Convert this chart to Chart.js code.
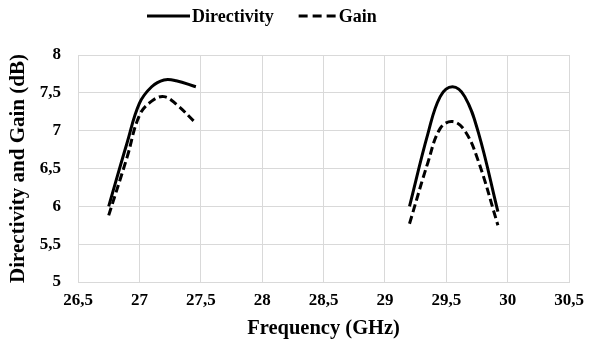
<!DOCTYPE html>
<html>
<head>
<meta charset="utf-8">
<script src="https://cdn.jsdelivr.net/npm/chart.js@4/dist/chart.umd.min.js"></script>
<style>
html,body{margin:0;padding:0;background:#fff;}
#wrap{width:592px;height:348px;position:relative;}
</style>
</head>
<body>
<div id="wrap"><canvas id="c" width="592" height="348"></canvas></div>
<script>
// Frequencies (GHz) — left band, then a gap, then right band
const freqLeft = [26.75, 26.9, 27.0, 27.1, 27.2, 27.3, 27.46];
const freqRight = [29.2, 29.35, 29.45, 29.55, 29.65, 29.76, 29.92];
const directivityLeft = [6.0, 6.84, 7.36, 7.58, 7.67, 7.66, 7.58];
const directivityRight = [6.0, 6.96, 7.45, 7.58, 7.45, 6.98, 5.93];
const gainLeft = [5.88, 6.65, 7.2, 7.39, 7.45, 7.35, 7.1];
const gainRight = [5.77, 6.58, 7.03, 7.12, 7.0, 6.6, 5.75];
const gapFreq = 28.3;
const xTicks = [26.5, 27, 27.5, 28, 28.5, 29, 29.5, 30, 30.5];
const yTicks = [5, 5.5, 6, 6.5, 7, 7.5, 8];
const seriesNames = ['Directivity', 'Gain'];

function series(fl, vl, fr, vr) {
  const pts = fl.map((f, i) => ({x: f, y: vl[i]}));
  pts.push({x: gapFreq, y: null});
  fr.forEach((f, i) => pts.push({x: f, y: vr[i]}));
  return pts;
}
const fmt = v => String(v).replace('.', ',');
const serif = "'Liberation Serif', 'Times New Roman', serif";

const legendPlugin = {
  id: 'customLegend',
  afterDraw(chart) {
    const ctx = chart.ctx;
    ctx.save();
    ctx.font = 'bold 18px ' + serif;
    ctx.fillStyle = '#000';
    ctx.strokeStyle = '#000';
    ctx.lineWidth = 3;
    ctx.textBaseline = 'middle';
    const y = 16;
    let x = 147;
    chart.data.datasets.forEach((ds, i) => {
      const len = i === 0 ? 43 : 38;
      ctx.setLineDash(ds.borderDash ? [9, 5] : []);
      ctx.beginPath();
      ctx.moveTo(x, y);
      ctx.lineTo(x + len, y);
      ctx.stroke();
      ctx.setLineDash([]);
      x += len + 2;
      ctx.fillText(ds.label, x, y + 1);
      x += ctx.measureText(ds.label).width + 25;
    });
    ctx.restore();
  }
};

new Chart(document.getElementById('c'), {
  type: 'line',
  data: {
    datasets: [
      {label: seriesNames[0], data: series(freqLeft, directivityLeft, freqRight, directivityRight),
       borderColor: '#000', backgroundColor: '#000', borderWidth: 3, pointRadius: 0, tension: 0.4, spanGaps: false},
      {label: seriesNames[1], data: series(freqLeft, gainLeft, freqRight, gainRight),
       borderColor: '#000', backgroundColor: '#000', borderWidth: 3, borderDash: [8, 4], pointRadius: 0, tension: 0.4, spanGaps: false}
    ]
  },
  plugins: [legendPlugin],
  options: {
    responsive: false,
    animation: false,
    devicePixelRatio: 1,
    layout: {padding: {top: 55, right: 19, left: 0, bottom: 0}},
    plugins: {
      tooltip: {enabled: false},
      legend: {display: false}
    },
    scales: {
      x: {
        type: 'linear', min: 26.5, max: 30.5,
        afterBuildTicks: ax => { ax.ticks = xTicks.map(v => ({value: v})); },
        afterFit: s => { s.height = 66; },
        ticks: {color: '#000', font: {family: serif, size: 17, weight: 'bold'}, callback: v => fmt(v), padding: 8, maxRotation: 0},
        grid: {color: '#d9d9d9', lineWidth: 1, drawTicks: false},
        border: {color: '#d9d9d9'},
        title: {display: true, text: 'Frequency (GHz)', color: '#000', font: {family: serif, size: 20.5, weight: 'bold'}, padding: {top: 0, bottom: 7}}
      },
      y: {
        type: 'linear', min: 5, max: 8,
        afterBuildTicks: ax => { ax.ticks = yTicks.map(v => ({value: v})); },
        afterFit: s => { s.width = 78; },
        ticks: {color: '#000', font: {family: serif, size: 17, weight: 'bold'}, callback: v => fmt(v), padding: 17},
        grid: {color: '#d9d9d9', lineWidth: 1, drawTicks: false},
        border: {color: '#d9d9d9'},
        title: {display: true, text: 'Directivity and Gain (dB)', color: '#000', font: {family: serif, size: 21, weight: 'bold'}, padding: {top: 6, bottom: 0}}
      }
    }
  }
});
</script>
</body>
</html>
